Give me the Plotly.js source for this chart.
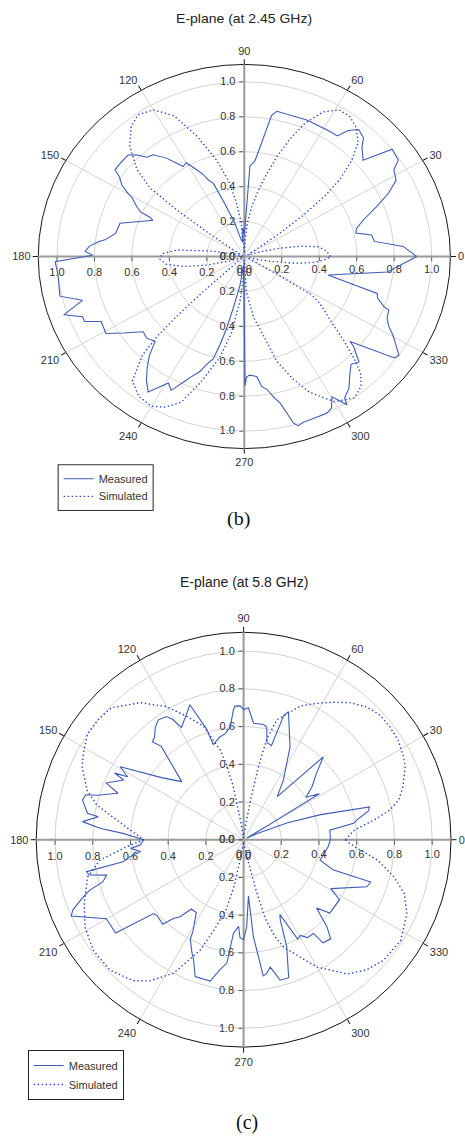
<!DOCTYPE html>
<html>
<head>
<meta charset="utf-8">
<script src="https://cdn.plot.ly/plotly-3.0.1.min.js"></script>
<style>
  html, body { margin: 0; padding: 0; background: #fff; width: 465px; height: 1136px; overflow: hidden; }
  /* panel (b) is drawn in a taller frame and compressed vertically */
  #panelB { position: absolute; left: 0; top: 0; width: 465px; height: 600px; transform: scaleY(0.932); transform-origin: 0 0; }
  #panelC { position: absolute; left: 0; top: 560px; width: 465px; height: 576px; }
</style>
</head>
<body>
<div id="panelB"></div>
<div id="panelC"></div>
<script>
// ---- E-plane at 2.45 GHz : measured ----
const thetaMeasB = [0, 3.9, 7.1, 10.3, 12.7, 15, 18.3, 22, 25.2, 28.3, 31.9, 33.9, 37.9, 41, 45.1, 46.8, 50, 52.5, 54.3, 57.4, 66.9, 78.2, 79.8, 82.4, 84.1, 86.7, 87, 88.7, 90.5, 92, 94, 95, 96, 100, 105, 109, 111.5, 113.7, 115.1, 117.2, 120, 122.4, 126.4, 129.9, 132.4, 134.7, 136.8, 138.6, 140.9, 143, 144.3, 145.5, 148, 149.7, 150.5, 153.6, 155.2, 156, 157, 159.6, 164, 169.1, 172.7, 173.7, 176, 178, 179.5, 181.7, 186, 193, 196.2, 199.1, 201.8, 203.6, 206, 210.8, 214.2, 218.6, 221.9, 225.6, 228.2, 230.8, 233.6, 236.5, 238.1, 240.8, 243, 246.1, 247.4, 250.2, 252, 254.2, 255.6, 257.1, 258.7, 262, 264, 266, 270.3, 271, 272.3, 275.5, 277.1, 279, 281.4, 282.8, 285.4, 286.5, 288.5, 296.1, 298.2, 300.2, 301.6, 302.8, 303.5, 306.4, 309.8, 312.7, 315.4, 316.8, 318.5, 319.2, 324.1, 325.6, 328.8, 330.5, 332.5, 335.1, 338.3, 338.9, 341.5, 343.4, 344.8, 346.7, 353.4, 360];
const rMeasB = [0.92, 0.85, 0.70, 0.69, 0.61, 0.62, 0.67, 0.76, 0.85, 0.92, 0.94, 0.99, 1.0, 0.84, 0.89, 0.93, 0.95, 0.91, 0.85, 0.85, 0.85, 0.85, 0.82, 0.63, 0.55, 0.52, 0.40, 0.17, 0.12, 0.16, 0.16, 0.12, 0.08, 0.10, 0.20, 0.32, 0.45, 0.48, 0.52, 0.56, 0.62, 0.61, 0.70, 0.76, 0.77, 0.82, 0.85, 0.85, 0.85, 0.85, 0.85, 0.81, 0.77, 0.72, 0.69, 0.64, 0.61, 0.55, 0.53, 0.58, 0.69, 0.70, 0.75, 0.78, 0.83, 0.85, 0.81, 1.01, 1.0, 1.01, 0.90, 1.02, 0.93, 0.93, 0.85, 0.86, 0.78, 0.69, 0.70, 0.68, 0.76, 0.82, 0.88, 0.93, 0.89, 0.83, 0.86, 0.78, 0.75, 0.70, 0.65, 0.61, 0.52, 0.42, 0.30, 0.17, 0.08, 0.05, 0.74, 0.69, 0.68, 0.69, 0.75, 0.77, 0.83, 0.86, 0.99, 1.01, 1.0, 1.0, 0.985, 0.93, 0.97, 1.01, 0.97, 0.94, 0.88, 0.84, 0.86, 0.82, 0.78, 0.745, 0.99, 1.0, 0.94, 0.91, 0.87, 0.84, 0.83, 0.80, 0.75, 0.74, 0.58, 0.46, 0.77, 0.92];

// ---- E-plane at 2.45 GHz : simulated ----
const thetaSimB = [0, 4, 8, 11, 14, 17, 20, 25, 30, 33, 35, 37, 39, 41, 44, 47, 51, 55, 59, 63, 67, 70, 73, 76, 79, 82, 85, 88, 90, 92, 95, 98, 101, 105, 110, 115, 120, 125, 129, 134, 139, 142, 143.5, 145, 147, 150, 155, 160, 165, 170, 174, 178, 182, 186, 190, 194, 198, 203, 210, 218, 221, 222.5, 223.5, 224.5, 226, 230, 235, 240, 244, 248, 252, 257, 261, 265, 268, 270, 273, 278, 282.6, 286, 290, 294, 300, 306, 310, 313, 315, 318, 321, 324, 326.5, 328.5, 330, 331.5, 334, 340, 345, 349, 352, 355, 358, 360];
const rSimB = [0.46, 0.44, 0.40, 0.31, 0.20, 0.10, 0.04, 0.02, 0.03, 0.08, 0.22, 0.40, 0.56, 0.68, 0.80, 0.89, 0.95, 0.98, 0.98, 0.93, 0.83, 0.72, 0.60, 0.48, 0.38, 0.29, 0.20, 0.08, 0.02, 0.08, 0.20, 0.32, 0.44, 0.57, 0.73, 0.89, 0.97, 0.99, 0.96, 0.88, 0.76, 0.64, 0.45, 0.22, 0.06, 0.02, 0.01, 0.02, 0.05, 0.18, 0.36, 0.44, 0.45, 0.42, 0.33, 0.20, 0.08, 0.02, 0.01, 0.02, 0.08, 0.30, 0.50, 0.65, 0.78, 0.93, 0.98, 0.99, 0.96, 0.90, 0.76, 0.60, 0.45, 0.25, 0.10, 0.02, 0.20, 0.35, 0.46, 0.62, 0.74, 0.85, 0.96, 1.0, 0.97, 0.91, 0.83, 0.71, 0.60, 0.53, 0.48, 0.42, 0.20, 0.06, 0.02, 0.02, 0.05, 0.15, 0.28, 0.38, 0.44, 0.46];

// ---- E-plane at 5.8 GHz : measured ----
const thetaMeasC = [0, 3, 6.3, 8.5, 9.9, 13, 14.6, 18, 21, 24, 27, 30.5, 31.2, 34.2, 37.8, 42.2, 46.1, 52, 56.3, 63.4, 70.7, 72.1, 73.5, 76.5, 78.4, 80.2, 85.1, 87.9, 90, 91.5, 93.7, 94.5, 96.8, 100, 102.9, 107.7, 108.5, 111.7, 115.4, 119, 120.5, 122, 125.4, 128, 131, 133, 131.4, 136.8, 142.6, 143.5, 149.4, 151.5, 152.7, 153.5, 157.6, 159.7, 163.1, 164.1, 166.1, 170.4, 171, 173.6, 175.5, 177, 180, 182.9, 184.4, 186.6, 188.5, 190.4, 191.5, 192.9, 194.5, 196.7, 198.2, 199.9, 202.4, 203.9, 209.9, 216.1, 219.3, 221, 226.3, 228.3, 230.5, 233, 237, 240.9, 241.9, 245.5, 247.4, 250.5, 256.7, 259.7, 262.3, 263.8, 266.7, 267.9, 270, 272.1, 274.9, 275.8, 277.6, 278.2, 279.8, 281.8, 284.6, 288.1, 292, 294.5, 295.9, 298, 298.5, 300.7, 303.1, 306.7, 307.6, 311.3, 313.7, 316.9, 319.6, 328, 330.7, 339.1, 341.6, 341.4, 345.1, 355.3, 360];
const rMeasC = [0.46, 0.46, 0.46, 0.59, 0.61, 0.68, 0.69, 0.43, 0.25, 0.08, 0.02, 0.15, 0.47, 0.40, 0.46, 0.52, 0.61, 0.29, 0.38, 0.55, 0.72, 0.69, 0.52, 0.53, 0.61, 0.62, 0.62, 0.70, 0.69, 0.71, 0.71, 0.69, 0.60, 0.57, 0.56, 0.53, 0.62, 0.77, 0.72, 0.68, 0.74, 0.77, 0.78, 0.76, 0.72, 0.71, 0.66, 0.45, 0.54, 0.56, 0.76, 0.70, 0.77, 0.71, 0.79, 0.71, 0.81, 0.87, 0.88, 0.84, 0.78, 0.86, 0.76, 0.64, 0.53, 0.55, 0.60, 0.55, 0.61, 0.65, 0.85, 0.84, 0.75, 0.78, 0.86, 0.91, 0.98, 1.0, 0.84, 0.84, 0.62, 0.61, 0.62, 0.56, 0.53, 0.46, 0.46, 0.55, 0.60, 0.66, 0.69, 0.77, 0.77, 0.70, 0.66, 0.50, 0.46, 0.52, 0.53, 0.46, 0.30, 0.52, 0.66, 0.73, 0.72, 0.69, 0.77, 0.77, 0.61, 0.47, 0.44, 0.56, 0.60, 0.59, 0.62, 0.62, 0.69, 0.70, 0.64, 0.53, 0.60, 0.60, 0.53, 0.70, 0.71, 0.50, 0.42, 0.45, 0.46];

// ---- E-plane at 5.8 GHz : simulated ----
const thetaSimC = [0, 5, 8.6, 11.4, 14.4, 18.3, 24.3, 27.4, 32.8, 37.7, 42.4, 47.2, 52.2, 56.9, 61.9, 67, 70, 74.5, 77, 78.5, 80, 82, 85, 90, 95, 99, 101, 103, 104.6, 109.5, 114.7, 120, 127, 135, 140, 145.9, 151.7, 155.7, 162.5, 166.7, 171.2, 175.9, 180, 183.4, 188.1, 193.4, 201.7, 208.8, 216.3, 224.3, 231.9, 236.3, 242.3, 248.5, 252, 256, 258.5, 260.5, 263, 270, 277, 282, 284, 285.5, 288, 290.5, 300, 307.7, 313.4, 319.3, 327.3, 335.7, 341.4, 346.2, 351.3, 354.9, 358.9, 360];
const rSimC = [0.54, 0.59, 0.70, 0.79, 0.85, 0.89, 0.94, 0.955, 0.975, 0.98, 0.98, 0.96, 0.92, 0.87, 0.82, 0.77, 0.72, 0.66, 0.55, 0.40, 0.22, 0.08, 0.02, 0.01, 0.02, 0.10, 0.29, 0.42, 0.49, 0.64, 0.72, 0.815, 0.91, 0.99, 1.0, 1.0, 0.965, 0.94, 0.87, 0.80, 0.68, 0.59, 0.53, 0.62, 0.77, 0.85, 0.91, 0.96, 0.99, 0.99, 0.95, 0.90, 0.80, 0.63, 0.50, 0.38, 0.25, 0.10, 0.03, 0.01, 0.03, 0.12, 0.30, 0.44, 0.54, 0.61, 0.78, 0.90, 0.95, 0.98, 0.99, 0.95, 0.90, 0.82, 0.72, 0.62, 0.55, 0.54];

// ---- axis labels ----
const ringTicks = [0, 0.2, 0.4, 0.6, 0.8, 1.0];
const ringLabels = ['0.0', '0.2', '0.4', '0.6', '0.8', '1.0'];
const angleTicks = [0, 30, 60, 90, 120, 150, 180, 210, 240, 270, 300, 330];
const angleLabels = ['0', '30', '60', '90', '120', '150', '180', '210', '240', '270', '300', '330'];
const seriesNames = ['Measured', 'Simulated'];

const SANS = 'Liberation Sans, Arial, sans-serif';
const SERIF = 'Liberation Serif, Times New Roman, serif';
const MEAS_COLOR = '#3d5cb8';
const SIM_COLOR = '#2342c9';
const GRID = '#d2d2d2';

function radialAxis(angle, side, tickangle, extra) {
  return Object.assign({
    range: [0, 1.1], autorange: false, angle: angle, side: side, tickangle: tickangle,
    tickmode: 'array', tickvals: ringTicks, ticktext: ringLabels,
    ticks: 'outside', ticklen: 4, tickwidth: 1, tickcolor: '#555',
    showline: true, linecolor: '#9a9a9a', linewidth: 2,
    showgrid: false,
    tickfont: { family: SANS, size: 11, color: '#333' }
  }, extra || {});
}

function hiddenAngular() {
  return { visible: false, rotation: 0, direction: 'counterclockwise' };
}

function drawPanel(el, opts) {
  const dom = { x: opts.domX, y: opts.domY };
  const traces = [
    { type: 'scatterpolar', subplot: 'polar', r: [], theta: [], mode: 'lines', showlegend: false, hoverinfo: 'skip' },
    { type: 'scatterpolar', subplot: 'polar2', r: [], theta: [], mode: 'lines', showlegend: false, hoverinfo: 'skip' },
    { type: 'scatterpolar', subplot: 'polar3', r: [], theta: [], mode: 'lines', showlegend: false, hoverinfo: 'skip' },
    { type: 'scatterpolar', subplot: 'polar4', name: seriesNames[0], r: opts.rMeas, theta: opts.thetaMeas,
      mode: 'lines', line: { color: MEAS_COLOR, width: 1.1 } },
    { type: 'scatterpolar', subplot: 'polar4', name: seriesNames[1], r: opts.rSim, theta: opts.thetaSim,
      mode: 'lines', line: { color: SIM_COLOR, width: 1.4, dash: '1.4px,2.6px' } }
  ];
  const layout = {
    width: 465, height: opts.height,
    margin: { l: 0, r: 0, t: 0, b: 0 },
    paper_bgcolor: '#fff',
    showlegend: true,
    legend: {
      x: opts.legX, y: opts.legY, xanchor: 'left', yanchor: 'top',
      bgcolor: '#fff', bordercolor: '#222', borderwidth: 1,
      font: { family: SANS, size: 11, color: '#333' },
      itemwidth: 30, tracegroupgap: 0
    },
    polar: {
      domain: dom, bgcolor: '#fff',
      angularaxis: {
        rotation: 0, direction: 'counterclockwise',
        tickmode: 'array', tickvals: angleTicks, ticktext: angleLabels,
        ticks: 'outside', ticklen: 5, tickwidth: 1, tickcolor: '#111',
        showline: true, linecolor: '#111', linewidth: 1,
        showgrid: true, gridcolor: GRID, gridwidth: 1,
        tickfont: { family: SANS, size: 11, color: '#333' }
      },
      radialaxis: radialAxis(0, 'clockwise', 0, { showgrid: true, gridcolor: GRID, gridwidth: 1 })
    },
    polar2: { domain: dom, bgcolor: 'rgba(0,0,0,0)', angularaxis: hiddenAngular(),
      radialaxis: radialAxis(90, 'counterclockwise', 90) },
    polar3: { domain: dom, bgcolor: 'rgba(0,0,0,0)', angularaxis: hiddenAngular(),
      radialaxis: radialAxis(180, 'counterclockwise', 180) },
    polar4: { domain: dom, bgcolor: 'rgba(0,0,0,0)', angularaxis: hiddenAngular(),
      radialaxis: radialAxis(270, 'clockwise', -90, { layer: 'below traces' }) },
    annotations: [
      { text: opts.title, xref: 'paper', yref: 'paper', x: 0.525, y: opts.titleY,
        xanchor: 'center', yanchor: 'middle', showarrow: false,
        font: { family: SANS, size: 14, color: '#222' } },
      { text: opts.caption, xref: 'paper', yref: 'paper', x: opts.capX, y: opts.capY,
        xanchor: 'center', yanchor: 'middle', showarrow: false,
        font: { family: SERIF, size: 20, color: '#111' } }
    ]
  };
  Plotly.newPlot(el, traces, layout, { staticPlot: true, displayModeBar: false });
}

drawPanel('panelB', {
  height: 600,
  domX: [0.0822, 0.9686], domY: [0.1978, 0.8848],
  thetaMeas: thetaMeasB, rMeas: rMeasB, thetaSim: thetaSimB, rSim: rSimB,
  title: 'E-plane (at 2.45 GHz)', titleY: 0.966,
  caption: '(b)', capX: 0.512, capY: 0.0717,
  legX: 0.124, legY: 0.1697
});

drawPanel('panelC', {
  height: 576,
  domX: [0.0778, 0.9699], domY: [0.1543, 0.8745],
  thetaMeas: thetaMeasC, rMeas: rMeasC, thetaSim: thetaSimC, rSim: rSimC,
  title: 'E-plane (at 5.8 GHz)', titleY: 0.9623,
  caption: '(c)', capX: 0.532, capY: 0.0226,
  legX: 0.0596, legY: 0.1493
});
</script>
</body>
</html>
